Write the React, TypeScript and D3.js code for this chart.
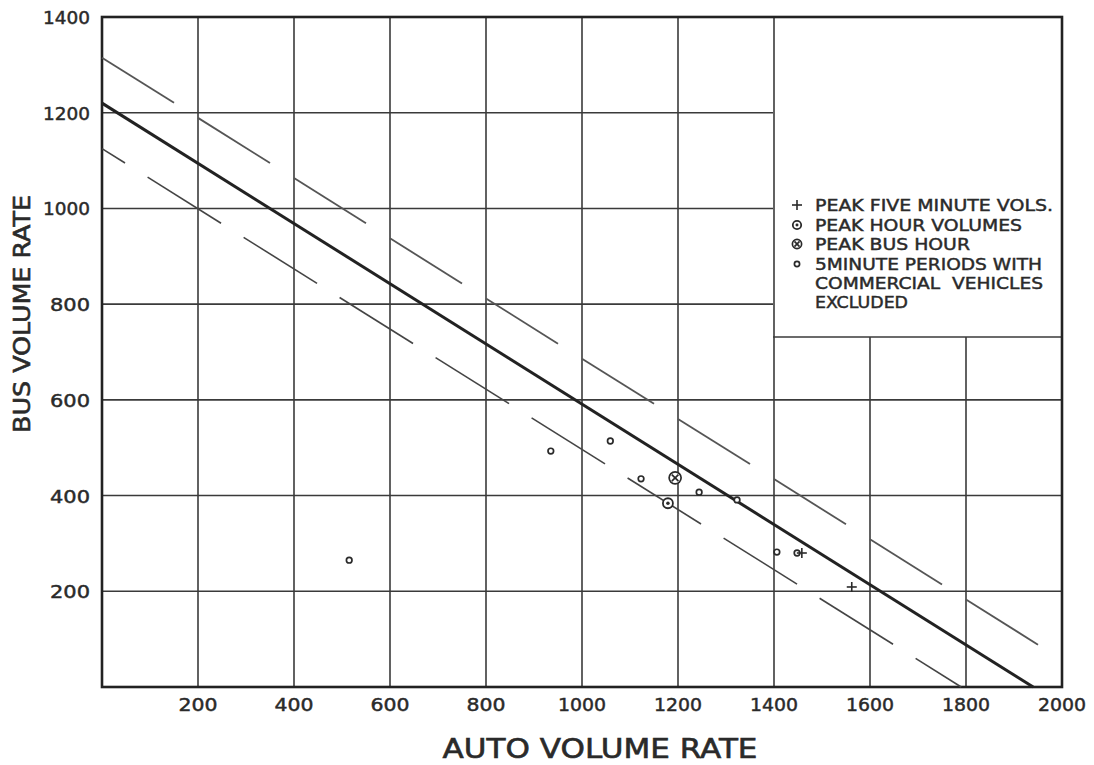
import React from "react";
import * as d3 from "d3";

// ---- data ----
const xTicks = [200, 400, 600, 800, 1000, 1200, 1400, 1600, 1800, 2000];
const yTicks = [200, 400, 600, 800, 1000, 1200, 1400];
const xGrid = [200, 400, 600, 800, 1000, 1200, 1400, 1600, 1800];
const yGrid = [200, 400, 600, 800, 1000, 1200];

// fitted line and limit lines (auto, bus)
const fitLine: [number, number][] = [[0, 1220], [1940, 0]];
const upperLimit: [number, number][] = [[0, 1315], [2000, 57]];
const lowerLimit: [number, number][] = [[0, 1125], [1790, 0]];

// points
const peakFiveMinute: [number, number][] = [[1458, 280], [1562, 209]];
const peakHour: [number, number][] = [[1179, 384]];
const peakBusHour: [number, number][] = [[1194, 437]];
const commercialExcluded: [number, number][] = [
  [515, 265], [935, 493], [1059, 514], [1123, 435], [1244, 407],
  [1323, 391], [1406, 282], [1448, 280],
];

const legendRows = [
  "PEAK FIVE MINUTE VOLS.",
  "PEAK HOUR VOLUMES",
  "PEAK BUS HOUR",
  "5MINUTE PERIODS WITH",
  "COMMERCIAL  VEHICLES",
  "EXCLUDED",
];
const legendWidths = [238, 207, 155, 227, 228, 93];

// ---- layout ----
const W = 1094, H = 765;
const L = 102, R = 1062, T = 17, B = 687;
const FONT = "'DejaVu Sans', 'Liberation Sans', sans-serif";
const INK = "#2a2a2a";

export default function App() {
  const x = d3.scaleLinear().domain([0, 2000]).range([L, R]);
  const y = d3.scaleLinear().domain([0, 1400]).range([B, T]);

  const interp = (line: [number, number][], a: number) => {
    const [[x0, y0], [x1, y1]] = line;
    const t = (a - x0) / (x1 - x0);
    return y0 + t * (y1 - y0);
  };
  const dashes = (line: [number, number][], on0: number, on1: number) => {
    const segs: [number, number][] = [];
    const xmax = line[1][0];
    for (let k = 0; k <= 11; k++) {
      const a = Math.max(0, 200 * k + on0);
      const b = Math.min(xmax, 200 * k + on1);
      if (b > a) segs.push([a, b]);
    }
    return segs.map(([a, b]) => ({ x1: x(a), y1: y(interp(line, a)), x2: x(b), y2: y(interp(line, b)) }));
  };
  const upperSegs = dashes(upperLimit, 0, 150);
  const lowerSegs = dashes(lowerLimit, -105, 48);
  const lineGen = d3.line<[number, number]>().x(d => x(d[0])).y(d => y(d[1]));

  const plus = (cx: number, cy: number, s: number, key: string) => (
    <g key={key} stroke={INK} strokeWidth={1.6}>
      <line x1={cx - s} x2={cx + s} y1={cy} y2={cy} />
      <line x1={cx} x2={cx} y1={cy - s} y2={cy + s} />
    </g>
  );
  const ringDot = (cx: number, cy: number, r: number, key: string) => (
    <g key={key}>
      <circle cx={cx} cy={cy} r={r} fill="white" stroke={INK} strokeWidth={1.8} />
      <circle cx={cx} cy={cy} r={r * 0.35} fill={INK} />
    </g>
  );
  const ringX = (cx: number, cy: number, r: number, key: string) => {
    const d = r * 0.55;
    return (
      <g key={key} stroke={INK} strokeWidth={1.7}>
        <circle cx={cx} cy={cy} r={r} fill="white" />
        <line x1={cx - d} y1={cy - d} x2={cx + d} y2={cy + d} />
        <line x1={cx - d} y1={cy + d} x2={cx + d} y2={cy - d} />
      </g>
    );
  };
  const small = (cx: number, cy: number, r: number, key: string) => (
    <circle key={key} cx={cx} cy={cy} r={r} fill="white" stroke={INK} strokeWidth={1.7} />
  );

  const legX = 773, legBottom = 337;
  const rowY = [205, 225, 244, 264, 283, 302];
  const txt = { fontFamily: FONT, fill: INK, stroke: INK, strokeWidth: 0.45 };

  return (
    <svg width={W} height={H} style={{ position: "absolute", left: 0, top: 0, background: "white" }}>
      <rect x={0} y={0} width={W} height={H} fill="white" />
      {/* grid */}
      {xGrid.map(v => (
        <line key={"gx" + v} x1={x(v)} x2={x(v)} y1={B} y2={v > 1400 ? legBottom : T} stroke="#3a3a3a" strokeWidth={1.6} />
      ))}
      {yGrid.map(v => (
        <line key={"gy" + v} x1={L} x2={y(v) < legBottom ? legX : R} y1={y(v)} y2={y(v)} stroke="#3a3a3a" strokeWidth={1.6} />
      ))}
      {/* legend box bottom */}
      <line x1={legX} x2={R} y1={legBottom} y2={legBottom} stroke="#3a3a3a" strokeWidth={1.6} />
      {/* border */}
      <rect x={L} y={T} width={R - L} height={B - T} fill="none" stroke="#222" strokeWidth={2.6} />

      {/* limit lines */}
      {upperSegs.map((s, i) => (
        <line key={"u" + i} {...s} stroke="#555" strokeWidth={1.8} />
      ))}
      {lowerSegs.map((s, i) => (
        <line key={"l" + i} {...s} stroke="#444" strokeWidth={1.6} />
      ))}
      {/* fitted line */}
      <path d={lineGen(fitLine) || ""} stroke="#222" strokeWidth={3} fill="none" />

      {/* points */}
      {commercialExcluded.map((p, i) => small(x(p[0]), y(p[1]), 2.8, "c" + i))}
      {peakFiveMinute.map((p, i) => plus(x(p[0]), y(p[1]), 5, "p" + i))}
      {peakHour.map((p, i) => ringDot(x(p[0]), y(p[1]), 5, "h" + i))}
      {peakBusHour.map((p, i) => ringX(x(p[0]), y(p[1]), 6, "b" + i))}

      {/* legend */}
      {plus(797, rowY[0], 5, "lg0")}
      {ringDot(797, rowY[1], 4.2, "lg1")}
      {ringX(797, rowY[2], 4.6, "lg2")}
      {small(797, rowY[3], 2.6, "lg3")}
      {legendRows.map((t, i) => (
        <text key={"lt" + i} x={815} y={rowY[i] + 6} fontSize={16} {...txt}
          textLength={legendWidths[i]} lengthAdjust="spacingAndGlyphs" style={{ whiteSpace: "pre" }}>{t}</text>
      ))}

      {/* tick labels */}
      {xTicks.map(v => (
        <text key={"xt" + v} x={x(v)} y={711} textAnchor="middle" fontSize={17} {...txt}
          textLength={String(v).length === 3 ? 39 : 48} lengthAdjust="spacingAndGlyphs">{v}</text>
      ))}
      {yTicks.map(v => (
        <text key={"yt" + v} x={90} y={y(v) + 7} textAnchor="end" fontSize={17} {...txt}
          textLength={String(v).length === 3 ? 40 : 47} lengthAdjust="spacingAndGlyphs">{v}</text>
      ))}

      {/* axis titles */}
      <text x={600} y={758} textAnchor="middle" fontSize={26} {...txt} strokeWidth={0.6}
        textLength={315} lengthAdjust="spacingAndGlyphs">AUTO VOLUME RATE</text>
      <text transform="translate(30,314) rotate(-90)" textAnchor="middle" fontSize={23} {...txt} strokeWidth={0.6}
        textLength={238} lengthAdjust="spacingAndGlyphs">BUS VOLUME RATE</text>
    </svg>
  );
}
